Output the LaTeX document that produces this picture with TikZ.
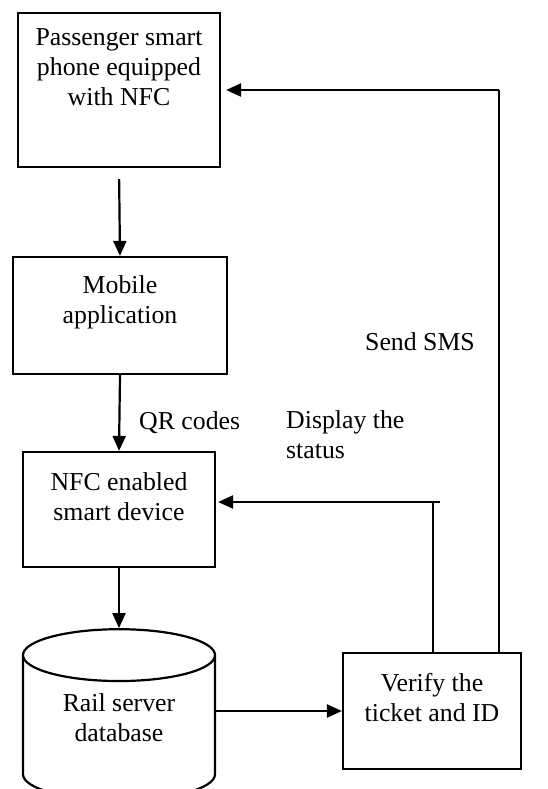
\documentclass[tikz,border=0pt]{standalone}
\usepackage{fontspec}
\setmainfont{Liberation Serif}
\usetikzlibrary{arrows.meta,shapes.geometric,positioning}
\begin{document}
\begin{tikzpicture}[x=1pt,y=-1pt,>={Triangle[length=15pt,width=13pt]}]
\tikzstyle{box} = [draw,line width=2.2pt,inner sep=0pt]
\tikzstyle{txt} = [font=\fontsize{25.8}{30}\selectfont,align=center,inner sep=0pt]
\tikzstyle{link} = [->,line width=2.2pt]
\tikzstyle{thin} = [line width=1.5pt]
\useasboundingbox (0,0) rectangle (547,789);
  %boxes
  \node[box,minimum width=202pt,minimum height=154pt] (phone) at (119,90) {};
  \node[txt] (phone text) at (119,67) {Passenger smart\\phone equipped\\with NFC};
  \node[box,minimum width=214pt,minimum height=117pt] (mobile) at (120,315.5) {};
  \node[txt] (mobile text) at (120,302.5) {Mobile\\application};
  \node[box,minimum width=192pt,minimum height=115pt] (nfc) at (119,509.5) {};
  \node[txt] (nfc text) at (119,496.5) {NFC enabled\\smart device};
  \node[box,minimum width=178pt,minimum height=116pt] (verify) at (432,711) {};
  \node[txt] (verify text) at (432,697.5) {Verify the\\ticket and ID};
  %database
  \node[draw,line width=2.2pt,cylinder,shape border rotate=90,aspect=0.27,
        text width=192pt,minimum height=171pt,inner sep=0pt,below=60pt of nfc] (db) {};
  \node[txt] (db text) at (119,717.5) {Rail server\\database};
  %labels
  \node[txt,anchor=west] (qr) at (139,423) {QR codes};
  \node[txt,align=left,anchor=north west] (status) at (286,410) {Display the\\status};
  \node[txt] (sms) at (420,342) {Send SMS};
  %arrows
  \draw[link,shorten <=11pt] (phone.south) -- (mobile.north);
  \draw[link] (mobile.south) -- (nfc.north);
  \draw[link] (nfc.south) -- (db.north);
  \draw[link] (db.east |- verify.west) -- (verify.west);
  %feedback
  \coordinate (status corner) at (440,502);
  \coordinate (sms corner) at (499,90);
  \draw[thin] (verify.north -| 433,0) -- (433,502);
  \draw[link,shorten >=2pt] (status corner) -- (status corner -| nfc.east);
  \draw[line width=2.2pt] (sms corner |- verify.north) -- (sms corner);
  \draw[link,shorten >=5pt] (sms corner) -- (phone.east);
\end{tikzpicture}
\end{document}
